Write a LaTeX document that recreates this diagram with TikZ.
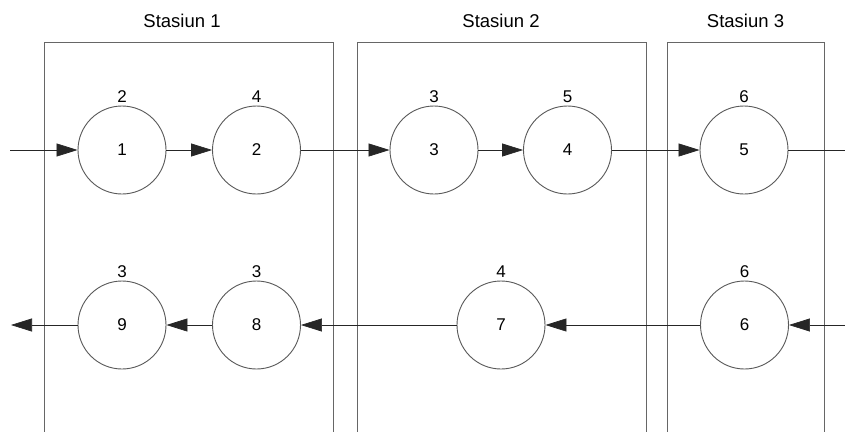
\documentclass[tikz,border=0pt]{standalone}
\usepackage{fontspec}
\setmainfont{Liberation Sans}
\usetikzlibrary{arrows.meta}
\begin{document}
\begin{tikzpicture}[x=1pt,y=-1pt,
  station/.style={draw=black!60, line width=0.9pt, rectangle, inner sep=0pt},
  proc/.style={circle, draw=black!65, line width=0.9pt, minimum size=88pt, inner sep=0pt,
    font=\fontsize{17}{19}\selectfont,
    label={[font=\fontsize{17}{19}\selectfont, inner sep=1.5pt, label distance=1.5pt]above:#1}},
  conn/.style={draw=black!85, line width=0.7pt, -{Triangle[length=21pt,width=13pt]}},
  plain/.style={draw=black!85, line width=0.7pt},
  title/.style={font=\fontsize{18.5}{21}\selectfont, inner sep=0pt}]
\useasboundingbox (0,0) rectangle (845,431);
\clip (0,0) rectangle (845,431);
\fill[white] (0,0) rectangle (845,431);
% stations
\node[station, minimum width=289pt, minimum height=400pt] (s1) at (188.5,242) {};
\node[station, minimum width=289pt, minimum height=400pt] (s2) at (501.5,242) {};
\node[station, minimum width=157pt, minimum height=400pt] (s3) at (745.5,242) {};
\node[title] (t1) at (182,21) {Stasiun 1};
\node[title] (t2) at (501,21) {Stasiun 2};
\node[title] (t3) at (745.5,21) {Stasiun 3};
% processes
\node[proc=2] (c1) at (122,150) {1};
\node[proc=4] (c2) at (256.5,150) {2};
\node[proc=3] (c3) at (434,150) {3};
\node[proc=5] (c4) at (567.5,150) {4};
\node[proc=6] (c5) at (744,150) {5};
\node[proc=6] (c6) at (744.5,325) {6};
\node[proc=4] (c7) at (501,325) {7};
\node[proc=3] (c8) at (256.5,325) {8};
\node[proc=3] (c9) at (122,325) {9};
% free ends
\coordinate (in1) at (10,150);
\coordinate (out1) at (850,150);
\coordinate (in2) at (850,325);
\coordinate (out2) at (11,325);
% connectors
\draw[conn] (in1) -- (c1);
\draw[conn] (c1) -- (c2);
\draw[conn] (c2) -- (c3);
\draw[conn] (c3) -- (c4);
\draw[conn] (c4) -- (c5);
\draw[plain] (c5) -- (out1);
\draw[conn] (in2) -- (c6);
\draw[conn] (c6) -- (c7);
\draw[conn] (c7) -- (c8);
\draw[conn] (c8) -- (c9);
\draw[conn] (c9) -- (out2);
\end{tikzpicture}
\end{document}
